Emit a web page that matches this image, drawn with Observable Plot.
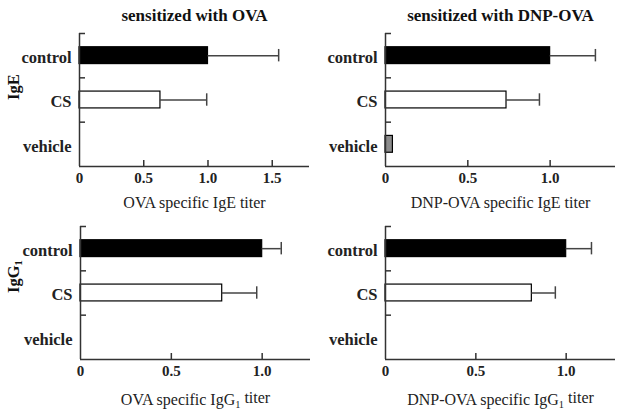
<!DOCTYPE html>
<html>
<head>
<meta charset="utf-8">
<script src="https://cdn.jsdelivr.net/npm/d3@7"></script>
<script src="https://cdn.jsdelivr.net/npm/@observablehq/plot@0.6"></script>
<style>
  html, body { margin: 0; padding: 0; background: #fff; }
  #wrap { position: relative; width: 624px; height: 417px; overflow: hidden; }
  .panel { position: absolute; }
  svg { overflow: visible; }
</style>
</head>
<body>
<div id="wrap"></div>
<script>
// ---- data ----
const groups = ["control", "CS", "vehicle"];
const groupFill = ["#000000", "#ffffff", "#8c8c8c"];

const titles = ["sensitized with OVA", "sensitized with DNP-OVA"];
const rowTitles = ["IgE", "IgG₁"];

const xLabels = ["OVA specific IgE titer", "DNP-OVA specific IgE titer",
                 "OVA specific IgG₁ titer", "DNP-OVA specific IgG₁ titer"];

// mean titer (relative to control) and upper error value
const ovaIgE      = [1.00, 0.63, 0];
const ovaIgEErr   = [1.55, 0.99, null];
const dnpIgE      = [1.00, 0.735, 0.045];
const dnpIgEErr   = [1.275, 0.935, null];
const ovaIgG1     = [1.00, 0.78, 0];
const ovaIgG1Err  = [1.105, 0.97, null];
const dnpIgG1     = [1.00, 0.81, 0];
const dnpIgG1Err  = [1.14, 0.94, null];

const xTicks1 = [0, 0.5, 1.0, 1.5];
const xTicks2 = [0, 0.5, 1.0];

const serif = "'Liberation Serif', 'Times New Roman', serif";

function panel({values, errs, xMax, xTicks, title, rowTitle, xLabel, left, top, w, h, mL, mR, mT, mB, xLabelDy}) {
  const data = groups.map((g, i) => ({g, i, v: values[i], hi: errs[i], fill: groupFill[i]}))
    .filter(d => d.v > 0);
  const errData = data.filter(d => d.hi != null);
  const marks = [
    Plot.rect(data, {x1: d => 0, x2: "v", y1: d => d.i + 0.31, y2: d => d.i + 0.69,
      fill: "fill", stroke: "#000", strokeWidth: 1.2}),
    Plot.ruleY(errData, {x1: "v", x2: "hi", y: d => d.i + 0.5, stroke: "#444", strokeWidth: 1.5}),
    Plot.ruleX(errData, {x: "hi", y1: d => d.i + 0.36, y2: d => d.i + 0.64, stroke: "#444", strokeWidth: 1.5}),
    Plot.ruleX([0], {stroke: "#333", strokeWidth: 1.5}),
    Plot.ruleY([3], {stroke: "#333", strokeWidth: 1.5}),
    Plot.axisX({ticks: xTicks, tickFormat: d => d === 0 ? "0" : d3.format(".1f")(d), tickSize: 0, tickPadding: 6,
      label: null, fontSize: 15, fontWeight: "bold", fontFamily: serif, fill: "#222"}),
    Plot.axisX({ticks: xTicks.filter(d => d > 0), text: null, tickSize: -6, label: null, stroke: "#333", strokeWidth: 1.5}),
    Plot.axisY({ticks: [0.5, 1.5, 2.5], tickFormat: d => groups[Math.floor(d)], tickSize: 0, tickPadding: 8,
      label: null, fontSize: 16.5, fontWeight: "bold", fontFamily: serif, fill: "#222", dy: 2}),
    Plot.axisY({ticks: [0, 1, 2], text: null, tickSize: -6, label: null, stroke: "#333", strokeWidth: 1.5}),
    Plot.text([xLabel], {text: d => d, frameAnchor: "bottom", dy: xLabelDy, lineAnchor: "middle",
      fontSize: 16, fontFamily: serif, fill: "#222"})
  ];
  if (title) marks.push(Plot.text([title], {text: d => d, frameAnchor: "top", dy: -18 + (mT - 33), lineAnchor: "middle",
      fontSize: 17, fontWeight: "bold", fontFamily: serif, fill: "#111"}));
  if (rowTitle) marks.push(Plot.text([rowTitle], {text: d => d, frameAnchor: "left", dx: 13 - mL, rotate: -90,
      lineAnchor: "middle", fontSize: 16.5, fontWeight: "bold", fontFamily: serif, fill: "#111"}));
  const svg = Plot.plot({
    width: w, height: h,
    marginLeft: mL, marginRight: mR, marginTop: mT, marginBottom: mB,
    x: {domain: [0, xMax], axis: null},
    y: {domain: [0, 3], reverse: true, axis: null},
    style: {fontFamily: serif, background: "transparent"},
    marks
  });
  svg.querySelectorAll("g, text, tspan").forEach(el => {
    el.style.setProperty("font-family", serif, "important");
  });
  // subscript for "₁"
  svg.querySelectorAll("text").forEach(t => {
    if (t.children.length === 0 && t.textContent.includes("₁")) {
      const parts = t.textContent.split("₁");
      t.textContent = "";
      const ns = "http://www.w3.org/2000/svg";
      parts.forEach((p, k) => {
        const s = document.createElementNS(ns, "tspan");
        s.textContent = p;
        if (k > 0) s.setAttribute("dy", "-0.3em");
        t.appendChild(s);
        if (k < parts.length - 1) {
          const sub = document.createElementNS(ns, "tspan");
          sub.textContent = "1";
          sub.setAttribute("font-size", "0.65em");
          sub.setAttribute("dy", "0.3em");
          t.appendChild(sub);
        }
      });
    }
  });
  const div = document.createElement("div");
  div.className = "panel";
  div.style.left = left + "px";
  div.style.top = top + "px";
  div.appendChild(svg);
  document.getElementById("wrap").appendChild(div);
}

panel({values: ovaIgE, errs: ovaIgEErr, xMax: 1.79, xTicks: xTicks1, title: titles[0], rowTitle: rowTitles[0],
  xLabel: xLabels[0], left: 0, top: 0, w: 312, h: 210, mL: 79, mR: 3, mT: 33, mB: 44, xLabelDy: 36});
panel({values: dnpIgE, errs: dnpIgEErr, xMax: 1.397, xTicks: xTicks2, title: titles[1], rowTitle: null,
  xLabel: xLabels[1], left: 312, top: 0, w: 312, h: 210, mL: 73, mR: 9, mT: 33, mB: 44, xLabelDy: 36});
panel({values: ovaIgG1, errs: ovaIgG1Err, xMax: 1.266, xTicks: xTicks2, title: null, rowTitle: rowTitles[1],
  xLabel: xLabels[2], left: 0, top: 210, w: 312, h: 207, mL: 80, mR: 2, mT: 16, mB: 58, xLabelDy: 40});
panel({values: dnpIgG1, errs: dnpIgG1Err, xMax: 1.273, xTicks: xTicks2, title: null, rowTitle: null,
  xLabel: xLabels[3], left: 312, top: 210, w: 312, h: 207, mL: 73, mR: 9, mT: 16, mB: 58, xLabelDy: 40});
</script>
</body>
</html>
